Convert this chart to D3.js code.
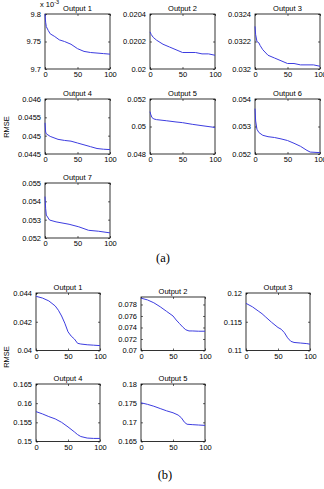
<!DOCTYPE html>
<html><head><meta charset="utf-8">
<script src="https://cdn.jsdelivr.net/npm/d3@7"></script>
<style>body{margin:0;background:#fff}svg{display:block}</style>
</head><body>
<script>
// ---------- data ----------
const titlesA = ["Output 1","Output 2","Output 3","Output 4","Output 5","Output 6","Output 7"];
const titlesB = ["Output 1","Output 2","Output 3","Output 4","Output 5"];
const xTicks = [0, 50, 100];

// (a) panels: iterations and RMSE
const a1X = [0,1,2,5,8,15,22,30,40,50,60,70,80,90,100];
const a1Y = [9.8,9.785,9.777,9.77,9.764,9.759,9.753,9.75,9.745,9.737,9.732,9.73,9.729,9.728,9.727]; // x 10^-3
const a2X = [0,2,5,10,20,30,40,50,60,70,80,90,100];
const a2Y = [0.02027,0.02025,0.02023,0.02021,0.02018,0.02016,0.02014,0.02012,0.02012,0.02012,0.02011,0.02011,0.0201];
const a3X = [0,1,3,6,8,12,20,30,40,50,60,70,80,90,100];
const a3Y = [0.03231,0.03225,0.0322,0.03219,0.03217,0.03214,0.0321,0.03208,0.03206,0.03204,0.03204,0.03203,0.03203,0.03203,0.03202];
const a4X = [0,1,2,8,20,30,40,50,60,70,80,90,100];
const a4Y = [0.04535,0.0451,0.04505,0.04498,0.0449,0.04487,0.04485,0.0448,0.04475,0.0447,0.04465,0.04463,0.04462];
const a5X = [0,1,3,6,10,25,40,50,65,80,100];
const a5Y = [0.05108,0.0509,0.05065,0.05055,0.0505,0.05042,0.05033,0.05028,0.05016,0.05006,0.04993];
const a6X = [0,1,3,6,12,20,30,40,50,60,70,80,85,100];
const a6Y = [0.05365,0.0532,0.0529,0.05278,0.05268,0.05263,0.0526,0.05255,0.05249,0.05239,0.05228,0.05213,0.05207,0.05205];
const a7X = [0,1,2,7,17,37,52,67,82,100];
const a7Y = [0.05426,0.0536,0.05325,0.05298,0.05288,0.05275,0.05261,0.05242,0.05237,0.05228];

const a1Ticks = [9.7, 9.75, 9.8];
const a2Ticks = [0.02, 0.0202, 0.0204];
const a3Ticks = [0.032, 0.0322, 0.0324];
const a4Ticks = [0.0445, 0.045, 0.0455, 0.046];
const a5Ticks = [0.048, 0.05, 0.052];
const a6Ticks = [0.052, 0.053, 0.054];
const a7Ticks = [0.052, 0.053, 0.054, 0.055];

// (b) panels
const b1X = [0,10,20,30,35,40,45,50,55,60,65,70,80,90,100];
const b1Y = [0.04377,0.04365,0.04345,0.0431,0.0428,0.0424,0.0419,0.0413,0.041,0.0408,0.0405,0.04045,0.0404,0.04037,0.04034];
const b2X = [0,10,20,30,40,50,55,60,65,70,75,80,90,100];
const b2Y = [0.0791,0.0788,0.0783,0.0776,0.0768,0.076,0.0753,0.0747,0.0741,0.0736,0.0734,0.0734,0.07335,0.07335];
const b3X = [0,10,20,25,30,40,50,55,60,65,70,75,85,95,100];
const b3Y = [0.1182,0.1176,0.1168,0.1164,0.1159,0.1149,0.114,0.1137,0.1131,0.1122,0.1116,0.1114,0.1113,0.1112,0.1111];
const b4X = [0,10,20,30,40,50,60,65,70,80,90,100];
const b4Y = [0.1578,0.1572,0.1565,0.1559,0.155,0.1538,0.1525,0.1518,0.1513,0.1509,0.1508,0.1508];
const b5X = [0,10,20,30,40,50,58,63,68,72,80,90,100];
const b5Y = [0.1751,0.1747,0.1742,0.1736,0.173,0.1725,0.1719,0.1712,0.17,0.1695,0.1694,0.1693,0.1692];

const b1Ticks = [0.04, 0.042, 0.044];
const b2Ticks = [0.07, 0.072, 0.074, 0.076, 0.078];
const b3Ticks = [0.11, 0.115, 0.12];
const b4Ticks = [0.15, 0.155, 0.16, 0.165];
const b5Ticks = [0.165, 0.17, 0.175, 0.18];

// ---------- layout ----------
const W = 324, H = 489;
const svg = d3.select("body").append("svg").attr("width", W).attr("height", H);
const FONT = "Liberation Sans, Arial, sans-serif";
const LINE = "#3d3de0";
const FS = 7.5;

function panel(o) {
  const x = d3.scaleLinear().domain([0, 100]).range([o.x0, o.x0 + o.w]);
  const y = d3.scaleLinear().domain(o.yDomain).range([o.y0 + o.h, o.y0]);
  const g = svg.append("g");
  g.append("rect").attr("x", o.x0).attr("y", o.y0).attr("width", o.w).attr("height", o.h)
    .attr("fill", "#fff").attr("stroke", "#000").attr("stroke-width", 0.8);
  const fmt = d => String(+d.toPrecision(6));
  const ax = g.append("g").attr("transform", `translate(0,${o.y0 + o.h})`)
    .call(d3.axisBottom(x).tickValues(xTicks).tickSize(-2).tickPadding(4).tickFormat(fmt));
  const axT = g.append("g").attr("transform", `translate(0,${o.y0})`)
    .call(d3.axisTop(x).tickValues(xTicks).tickSize(-2).tickFormat(""));
  const ay = g.append("g").attr("transform", `translate(${o.x0},0)`)
    .call(d3.axisLeft(y).tickValues(o.yTicks).tickSize(-2).tickPadding(4).tickFormat(fmt));
  const ayR = g.append("g").attr("transform", `translate(${o.x0 + o.w},0)`)
    .call(d3.axisRight(y).tickValues(o.yTicks).tickSize(-2).tickFormat(""));
  [ax, axT, ay, ayR].forEach(a => {
    a.select(".domain").remove();
    a.selectAll("line").attr("stroke", "#000").attr("stroke-width", 0.6);
    a.selectAll("text").attr("font-family", FONT).attr("font-size", FS).attr("fill", "#000");
  });
  ax.selectAll("text").attr("dy", "0.55em");
  const pts = o.xs.map((v, i) => [v, o.ys[i]]);
  g.append("path").datum(pts)
    .attr("d", d3.line().x(d => x(d[0])).y(d => y(d[1])))
    .attr("fill", "none").attr("stroke", LINE).attr("stroke-width", 1);
  g.append("text").attr("x", o.x0 + o.w / 2).attr("y", o.y0 - 3.5)
    .attr("text-anchor", "middle").attr("font-family", FONT).attr("font-size", FS)
    .attr("fill", "#000").text(o.title);
}

const colA = [45, 150, 255], rowA = [14, 99, 183];
const seriesA = [[a1X,a1Y,a1Ticks,[9.7,9.8]],[a2X,a2Y,a2Ticks,[0.02,0.0204]],[a3X,a3Y,a3Ticks,[0.032,0.0324]],
  [a4X,a4Y,a4Ticks,[0.0445,0.046]],[a5X,a5Y,a5Ticks,[0.048,0.052]],[a6X,a6Y,a6Ticks,[0.052,0.054]],[a7X,a7Y,a7Ticks,[0.052,0.055]]];
seriesA.forEach((s, i) => {
  panel({x0: colA[i % 3], y0: rowA[Math.floor(i / 3)], w: 65, h: 55,
    xs: s[0], ys: s[1], yTicks: s[2], yDomain: s[3], title: titlesA[i]});
});
svg.append("text").attr("x", 40).attr("y", 7).attr("font-family", FONT).attr("font-size", FS)
  .attr("fill", "#000").text("x 10").append("tspan").attr("dy", -3.5).attr("font-size", 5.5).text("-3");

const colB = [36, 141, 246], rowB = [293, 384];
const seriesB = [[b1X,b1Y,b1Ticks,[0.04,0.044]],[b2X,b2Y,b2Ticks,[0.07,0.0793]],[b3X,b3Y,b3Ticks,[0.11,0.12]],
  [b4X,b4Y,b4Ticks,[0.15,0.165]],[b5X,b5Y,b5Ticks,[0.165,0.18]]];
seriesB.forEach((s, i) => {
  const r = Math.floor(i / 3);
  const top = (i === 1) ? 297 : rowB[r];
  const bottom = rowB[r] + 57.5;
  panel({x0: colB[i % 3], y0: top, w: 64, h: bottom - top,
    xs: s[0], ys: s[1], yTicks: s[2], yDomain: s[3], title: titlesB[i]});
});

[[6, 127], [6, 357]].forEach(p => {
  svg.append("text").attr("transform", `translate(${p[0]},${p[1]}) rotate(-90)`)
    .attr("text-anchor", "middle").attr("dy", "0.35em").attr("font-family", FONT).attr("font-size", FS)
    .attr("fill", "#000").text("RMSE");
});
svg.append("text").attr("x", 163).attr("y", 262).attr("text-anchor", "middle")
  .attr("font-family", "Liberation Serif, Times New Roman, serif").attr("font-size", 12.5).text("(a)");
svg.append("text").attr("x", 165).attr("y", 479).attr("text-anchor", "middle")
  .attr("font-family", "Liberation Serif, Times New Roman, serif").attr("font-size", 12.5).text("(b)");
</script>
</body></html>
